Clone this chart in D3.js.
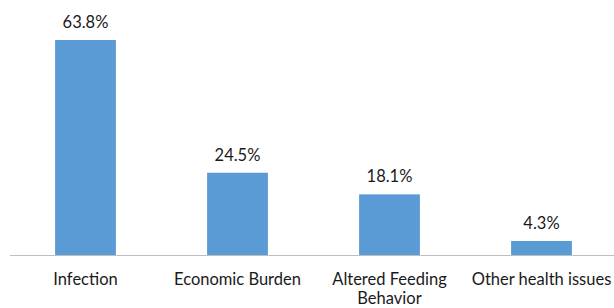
<!DOCTYPE html>
<html><head><meta charset="utf-8">
<script src="https://cdn.jsdelivr.net/npm/d3@7"></script>
<style>body{margin:0;background:#fff}svg{display:block}</style>
</head><body>
<script>
const categories = ["Infection", "Economic Burden", "Altered Feeding Behavior", "Other health issues"];
const values = [63.8, 24.5, 18.1, 4.3];
const valueLabels = ["63.8%", "24.5%", "18.1%", "4.3%"];

const W = 614, H = 308;
const baseY = 255.5;
const svg = d3.select("body").append("svg").attr("width", W).attr("height", H);
const x = d3.scaleBand().domain(categories).range([9.5, 617.5]).paddingInner(0.6).paddingOuter(0.3);
const y = d3.scaleLinear().domain([0, 63.8]).range([baseY, 40]);

svg.selectAll("rect.bar").data(values).join("rect")
  .attr("class", "bar")
  .attr("x", (d, i) => x(categories[i]))
  .attr("width", x.bandwidth())
  .attr("y", d => y(d))
  .attr("height", d => baseY - y(d))
  .attr("fill", "#5B9BD5");

svg.append("line").attr("x1", 10).attr("x2", W).attr("y1", baseY).attr("y2", baseY)
  .attr("stroke", "#BFBFBF").attr("stroke-width", 1);

svg.selectAll("text.val").data(values).join("text")
  .attr("class", "val")
  .attr("x", (d, i) => x(categories[i]) + x.bandwidth() / 2)
  .attr("y", d => y(d) - 12)
  .attr("text-anchor", "middle")
  .attr("font-family", "Lato, 'Open Sans', sans-serif")
  .attr("font-size", 16.5)
  .attr("fill", "#1a1a1a")
  .text((d, i) => valueLabels[i]);

const wrap = { "Altered Feeding Behavior": ["Altered Feeding", "Behavior"] };
categories.forEach(c => {
  const lines = wrap[c] || [c];
  lines.forEach((l, i) => svg.append("text")
    .attr("x", x(c) + x.bandwidth() / 2)
    .attr("y", 285 + i * 19)
    .attr("text-anchor", "middle")
    .attr("font-family", "Lato, 'Open Sans', sans-serif")
    .attr("font-size", 16.5)
    .attr("fill", "#1a1a1a")
    .text(l));
});
</script>
</body></html>
